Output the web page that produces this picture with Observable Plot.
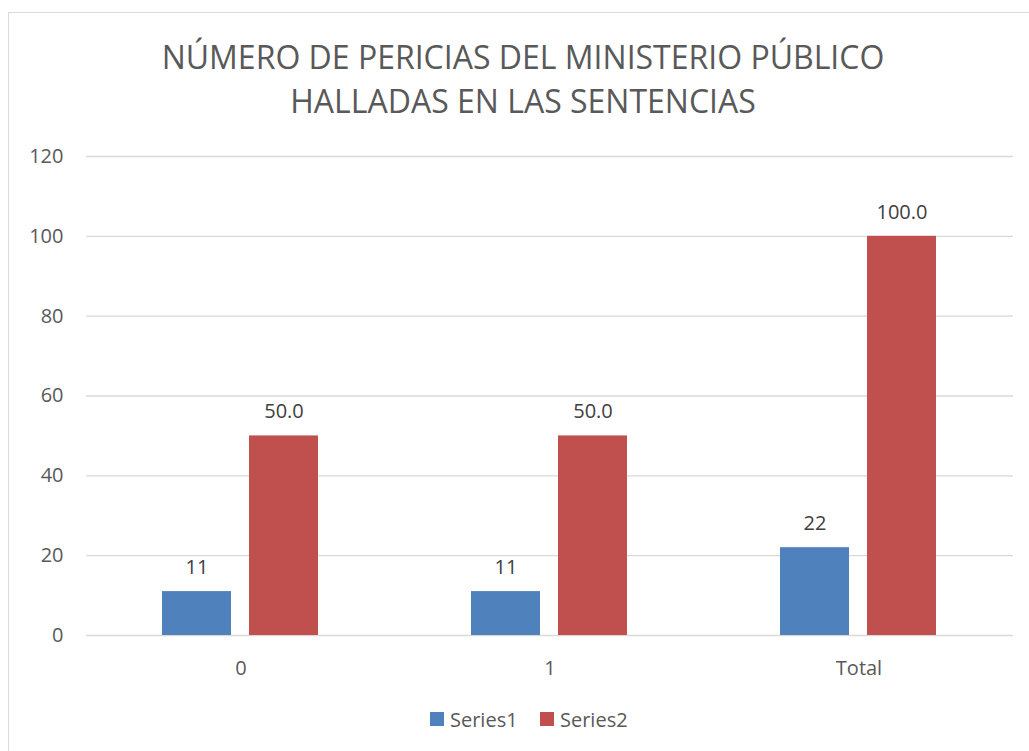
<!DOCTYPE html>
<html>
<head>
<meta charset="utf-8">
<script src="https://cdn.jsdelivr.net/npm/d3@7"></script>
<script src="https://cdn.jsdelivr.net/npm/@observablehq/plot@0.6"></script>
<style>
  html, body { margin: 0; padding: 0; background: #fff; }
  body { width: 1029px; height: 751px; position: relative; overflow: hidden; font-family: "Open Sans", sans-serif; }
  #frame { position: absolute; left: 8px; top: 12px; width: 1030px; height: 800px; border: 1px solid #d9d9d9; box-sizing: border-box; }
  #title { position: absolute; left: 8px; top: 35px; width: 1030px; text-align: center; font-size: 32px; line-height: 44px; color: #595959; }
  #chart { position: absolute; left: 0; top: 130px; }
  #legend { position: absolute; top: 706px; left: 0; width: 1029px; height: 26px; }
  .item { position: absolute; top: 0; display: flex; align-items: center; font-size: 20px; color: #595959; height: 26px; }
  .sw { width: 14px; height: 14px; margin-right: 6px; display: inline-block; }
</style>
</head>
<body>
<div id="frame"></div>
<div id="title"></div>
<div id="chart"></div>
<div id="legend"></div>
<script>
const titleLines = ["NÚMERO DE PERICIAS DEL MINISTERIO PÚBLICO", "HALLADAS EN LAS SENTENCIAS"];
const categories = ["0", "1", "Total"];
const seriesNames = ["Series1", "Series2"];
const series1 = [11, 11, 22];
const series2 = [50, 50, 100];
const labels1 = ["11", "11", "22"];
const labels2 = ["50.0", "50.0", "100.0"];
const yTicks = [0, 20, 40, 60, 80, 100, 120];
const colors = ["#4f81bd", "#c0504d"];

document.getElementById("title").innerHTML = titleLines.map(t => `<div>${t}</div>`).join("");

const data = categories.flatMap((c, i) => [
  {cat: c, series: seriesNames[0], value: series1[i], label: labels1[i]},
  {cat: c, series: seriesNames[1], value: series2[i], label: labels2[i]}
]);

const chart = Plot.plot({
  width: 1029,
  height: 570,
  marginTop: 26,
  marginBottom: 65,
  marginLeft: 85,
  marginRight: 16,
  style: {fontFamily: "Open Sans", fontSize: "20px", color: "#595959", background: "transparent"},
  fx: {domain: categories, padding: 0, label: null, tickSize: 0, tickPadding: 25},
  x: {domain: seriesNames, paddingInner: 0.2045, paddingOuter: 0.86, axis: null},
  y: {domain: [0, 120], ticks: yTicks, label: null},
  color: {domain: seriesNames, range: colors},
  marks: [
    Plot.gridY(yTicks, {stroke: "#d9d9d9", strokeOpacity: 1, strokeWidth: 1.3}),
    Plot.axisY(yTicks, {tickSize: 0, tickPadding: 23, label: null, fill: "#595959"}),
    Plot.barY(data, {fx: "cat", x: "series", y: "value", fill: "series"}),
    Plot.text(data, {fx: "cat", x: "series", y: "value", text: "label", dy: -24, fill: "#404040", fontSize: 20})
  ]
});
document.getElementById("chart").appendChild(chart);

const legend = document.getElementById("legend");
const legendX = [430, 540];
seriesNames.forEach((s, i) => {
  const item = document.createElement("div");
  item.className = "item";
  item.style.left = legendX[i] + "px";
  item.innerHTML = `<span class="sw" style="background:${colors[i]}"></span><span>${s}</span>`;
  legend.appendChild(item);
});
</script>
</body>
</html>
